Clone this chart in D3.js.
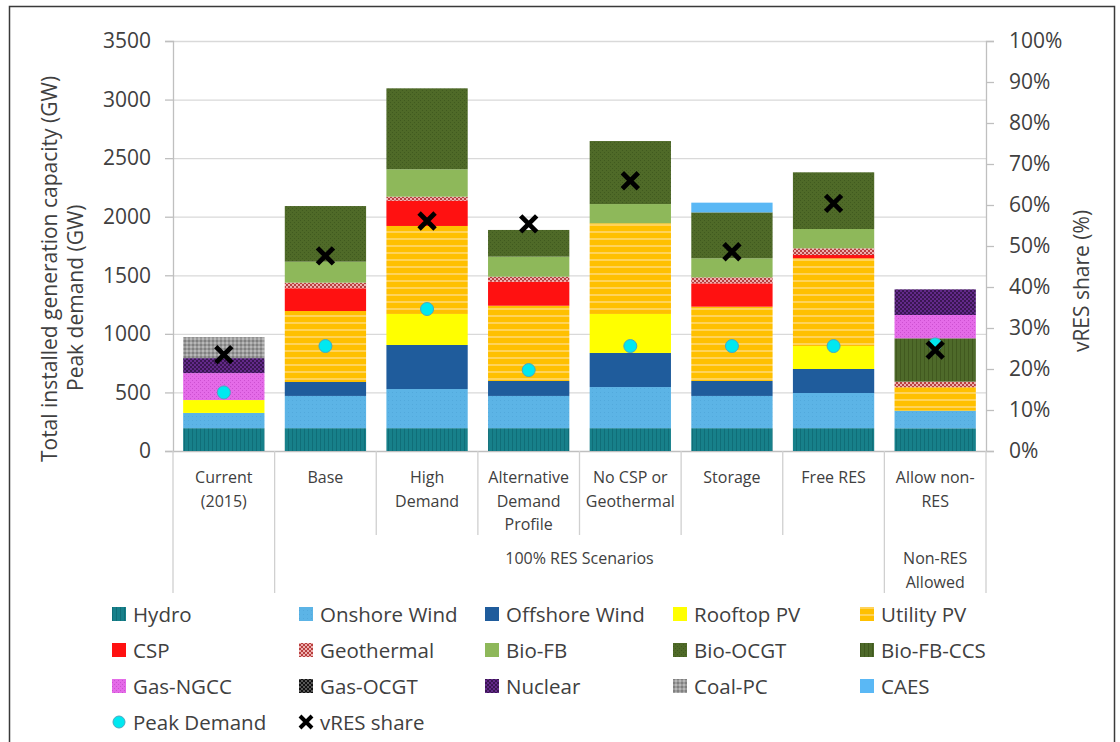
<!DOCTYPE html>
<html>
<head>
<meta charset="utf-8">
<script src="https://cdn.jsdelivr.net/npm/d3@7"></script>
<style>
html,body{margin:0;padding:0;background:#fff;}
svg{display:block;font-family:"Open Sans","Noto Sans",sans-serif;}
</style>
</head>
<body>
<svg id="chart" width="1120" height="742"></svg>
<script>
// ---------- DATA ----------
const categories = [
  ["Current", "(2015)"],
  ["Base"],
  ["High", "Demand"],
  ["Alternative", "Demand", "Profile"],
  ["No CSP or", "Geothermal"],
  ["Storage"],
  ["Free RES"],
  ["Allow non-", "RES"]
];
const seriesNames = ["Hydro","Onshore Wind","Offshore Wind","Rooftop PV","Utility PV","CSP","Geothermal","Bio-FB","Bio-OCGT","Bio-FB-CCS","Gas-NGCC","Gas-OCGT","Nuclear","Coal-PC","CAES"];
const hydro        = [195, 195, 195, 195, 195, 195, 195, 194];
const onshoreWind  = [130, 275, 334, 275, 351, 275, 300, 150];
const offshoreWind = [0,   119, 376, 128, 291, 128, 205, 0];
const rooftopPV    = [110, 0,   265, 0,   333, 0,   196, 0];
const utilityPV    = [0,   606, 751, 642, 774, 634, 749, 200];
const csp          = [0,   194, 216, 205, 0,   199, 28,  0];
const geothermal   = [0,   48,  34,  43,  0,   51,  57,  48];
const bioFB        = [0,   179, 234, 171, 164, 163, 165, 0];
const bioOCGT      = [0,   475, 691, 228, 538, 392, 484, 0];
const bioFBCCS     = [0,   0,   0,   0,   0,   0,   0,   370];
const gasNGCC      = [230, 0,   0,   0,   0,   0,   0,   199];
const gasOCGT      = [0,   0,   0,   0,   0,   0,   0,   0];
const nuclear      = [128, 0,   0,   0,   0,   0,   0,   219];
const coalPC       = [179, 0,   0,   0,   0,   0,   0,   0];
const caes         = [0,   0,   0,   0,   0,   83,  0,   0];
const peakDemand   = [500, 896, 1212, 691, 896, 896, 896, 910];
const vresShare    = [23.5, 47.6, 56.1, 55.4, 65.9, 48.6, 60.4, 24.6];
const leftTicks  = [0,500,1000,1500,2000,2500,3000,3500];
const rightTicks = [0,10,20,30,40,50,60,70,80,90,100];

const seriesValues = [hydro,onshoreWind,offshoreWind,rooftopPV,utilityPV,csp,geothermal,bioFB,bioOCGT,bioFBCCS,gasNGCC,gasOCGT,nuclear,coalPC,caes];

// ---------- SETUP ----------
const svg = d3.select("#chart");
const W = 1120, H = 742;
const plotL = 173, plotR = 986, plotT = 41, plotB = 451;

svg.append("rect").attr("x",0).attr("y",0).attr("width",W).attr("height",H).attr("fill","#fff");
svg.append("rect").attr("x",9.5).attr("y",6.5).attr("width",1105).attr("height",745)
  .attr("fill","none").attr("stroke","#3a3a3a").attr("stroke-width",1.5);

const defs = svg.append("defs");
function pat(id, size, bg, draw){
  const p = defs.append("pattern").attr("id",id).attr("patternUnits","userSpaceOnUse")
    .attr("width",size).attr("height",size);
  p.append("rect").attr("width",size).attr("height",size).attr("fill",bg);
  draw(p);
  return `url(#${id})`;
}
function dots(p, c, s){
  p.append("rect").attr("x",0).attr("y",0).attr("width",s).attr("height",s).attr("fill",c);
  p.append("rect").attr("x",2).attr("y",2).attr("width",s).attr("height",s).attr("fill",c);
}
const fills = {
  "Hydro": pat("pHydro",4,"#17808a",p=>p.append("rect").attr("x",0).attr("y",0).attr("width",1).attr("height",4).attr("fill","#106e78")),
  "Onshore Wind": pat("pOn",4,"#5cb4e6",p=>p.append("rect").attr("x",0).attr("y",0).attr("width",1).attr("height",1).attr("fill","#52a9dc")),
  "Offshore Wind": "#1f5c9c",
  "Rooftop PV": "#ffff00",
  "Utility PV": pat("pUtil",7,"#ffc000",p=>p.append("rect").attr("x",0).attr("y",0).attr("width",7).attr("height",2).attr("fill","#ffd35a")),
  "CSP": "#ff1111",
  "Geothermal": pat("pGeo",4,"#b8403f",p=>dots(p,"#eeb0b0",2)),
  "Bio-FB": "#8eb85a",
  "Bio-OCGT": pat("pBioO",4,"#4f6a28",p=>dots(p,"#405a1f",1)),
  "Bio-FB-CCS": pat("pCCS",4,"#4e6a2a",p=>p.append("rect").attr("x",0).attr("y",0).attr("width",1).attr("height",4).attr("fill","#41591f")),
  "Gas-NGCC": pat("pNGCC",4,"#e46be8",p=>dots(p,"#cc50d0",1)),
  "Gas-OCGT": pat("pOCGT",4,"#111",p=>dots(p,"#555",2)),
  "Nuclear": pat("pNuc",4,"#63298a",p=>dots(p,"#3a1652",2)),
  "Coal-PC": pat("pCoal",4,"#9c9c9c",p=>{p.append("rect").attr("x",0).attr("y",0).attr("width",2).attr("height",2).attr("fill","#808080");p.append("rect").attr("x",2).attr("y",2).attr("width",2).attr("height",2).attr("fill","#b8b8b8");}),
  "CAES": "#5ab8f5"
};

// ---------- SCALES ----------
const catKeys = categories.map(c=>c.join(" "));
const x = d3.scaleBand().domain(catKeys).range([plotL,plotR]).paddingInner(0.2).paddingOuter(0.1);
const y = d3.scaleLinear().domain([0,3500]).range([plotB,plotT]);
const y2 = d3.scaleLinear().domain([0,100]).range([plotB,plotT]);

// gridlines
svg.append("g").selectAll("line").data(leftTicks.filter(t=>t>0)).join("line")
  .attr("x1",plotL).attr("x2",plotR).attr("y1",d=>y(d)+0.5).attr("y2",d=>y(d)+0.5)
  .attr("stroke","#d9d9d9").attr("stroke-width",1.3);

// left axis
const axL = svg.append("g").attr("transform",`translate(${plotL},0)`)
  .call(d3.axisLeft(y).tickValues(leftTicks).tickSize(8).tickPadding(14).tickFormat(d3.format("d")));
axL.select(".domain").attr("stroke","#bfbfbf").attr("stroke-width",1.3);
axL.selectAll(".tick line").attr("stroke","#bfbfbf").attr("stroke-width",1.3);
axL.selectAll("text").attr("font-size",21).attr("fill","#404040").attr("font-family","Open Sans");

// right axis
const axR = svg.append("g").attr("transform",`translate(${plotR},0)`)
  .call(d3.axisRight(y2).tickValues(rightTicks).tickSize(8).tickPadding(15).tickFormat(d=>d+"%"));
axR.select(".domain").attr("stroke","#bfbfbf").attr("stroke-width",1.3);
axR.selectAll(".tick line").attr("stroke","#bfbfbf").attr("stroke-width",1.3);
axR.selectAll("text").attr("font-size",21).attr("fill","#404040").attr("font-family","Open Sans");

// baseline
svg.append("line").attr("x1",plotL).attr("x2",plotR).attr("y1",plotB+0.5).attr("y2",plotB+0.5)
  .attr("stroke","#bfbfbf").attr("stroke-width",1.3);

// category separators
const step = x.step();
const bounds = d3.range(categories.length+1).map(i=>plotL + i*step);
svg.append("g").selectAll("line").data(bounds).join("line")
  .attr("x1",d=>d).attr("x2",d=>d).attr("y1",plotB)
  .attr("y2",(d,i)=> (i===0||i===1||i===7||i===8) ? 593 : 535)
  .attr("stroke","#d0d0d0").attr("stroke-width",1.3);

// ---------- BARS ----------
const table = categories.map((c,i)=>{
  const row = {cat: catKeys[i]};
  seriesNames.forEach((s,j)=> row[s] = seriesValues[j][i]);
  return row;
});
const stacked = d3.stack().keys(seriesNames)(table);
svg.append("g").selectAll("g").data(stacked).join("g")
  .attr("fill",d=>fills[d.key])
  .selectAll("rect").data(d=>d.filter(v=>v[1]-v[0]>0)).join("rect")
  .attr("x",d=>x(d.data.cat)).attr("width",x.bandwidth())
  .attr("y",d=>y(d[1])).attr("height",d=>y(d[0])-y(d[1]));

// peak demand
svg.append("g").selectAll("circle").data(peakDemand).join("circle")
  .attr("cx",(d,i)=>x(catKeys[i])+x.bandwidth()/2).attr("cy",d=>y(d)).attr("r",6.5)
  .attr("fill","#00e8f0").attr("stroke","#4aa8c0").attr("stroke-width",1);

// vRES share
const xSize = 8;
svg.append("g").selectAll("path").data(vresShare).join("path")
  .attr("transform",(d,i)=>`translate(${x(catKeys[i])+x.bandwidth()/2},${y2(d)})`)
  .attr("d",`M${-xSize},${-xSize}L${xSize},${xSize}M${-xSize},${xSize}L${xSize},${-xSize}`)
  .attr("stroke","#000").attr("stroke-width",4.8).attr("fill","none");

// ---------- CATEGORY LABELS ----------
const catG = svg.append("g").attr("font-size",16).attr("fill","#404040").attr("text-anchor","middle");
categories.forEach((lines,i)=>{
  const cx = x(catKeys[i]) + x.bandwidth()/2;
  lines.forEach((t,k)=>{
    catG.append("text").attr("x",cx).attr("y",483 + k*23.5).text(t);
  });
});
const grpG = svg.append("g").attr("font-size",16).attr("fill","#404040").attr("text-anchor","middle");
grpG.append("text").attr("x",(bounds[1]+bounds[7])/2).attr("y",564).text("100% RES Scenarios");
grpG.append("text").attr("x",(bounds[7]+bounds[8])/2).attr("y",564).text("Non-RES");
grpG.append("text").attr("x",(bounds[7]+bounds[8])/2).attr("y",588).text("Allowed");

// ---------- AXIS TITLES ----------
svg.append("text").attr("transform","translate(57,269) rotate(-90)").attr("text-anchor","middle")
  .attr("font-size",21).attr("fill","#404040").text("Total installed generation capacity (GW)");
svg.append("text").attr("transform","translate(83,391) rotate(-90)").attr("text-anchor","start")
  .attr("font-size",21).attr("fill","#404040").text("Peak demand (GW)");
svg.append("text").attr("transform","translate(1089,281) rotate(-90)").attr("text-anchor","middle")
  .attr("font-size",21).attr("fill","#404040").text("vRES share (%)");

// ---------- LEGEND ----------
const legendItems = seriesNames.map(s=>({name:s,type:"rect"}))
  .concat([{name:"Peak Demand",type:"circle"},{name:"vRES share",type:"x"}]);
const colX = [112, 299, 485, 673, 860];
const rowY = [614, 650, 686, 722];
const lg = svg.append("g");
legendItems.forEach((it,i)=>{
  const cx = colX[i%5], cy = rowY[Math.floor(i/5)];
  const g = lg.append("g").attr("transform",`translate(${cx},${cy})`);
  if(it.type==="rect"){
    g.append("rect").attr("x",0).attr("y",-7).attr("width",14).attr("height",14).attr("fill",fills[it.name]);
  } else if(it.type==="circle"){
    g.append("circle").attr("cx",7).attr("cy",0).attr("r",6).attr("fill","#00e8f0").attr("stroke","#4aa8c0");
  } else {
    g.append("path").attr("d","M1,-6L13,6M1,6L13,-6").attr("stroke","#000").attr("stroke-width",4);
  }
  g.append("text").attr("x",21).attr("y",7.5).attr("font-size",20.5).attr("fill","#404040").text(it.name);
});
</script>
</body>
</html>
